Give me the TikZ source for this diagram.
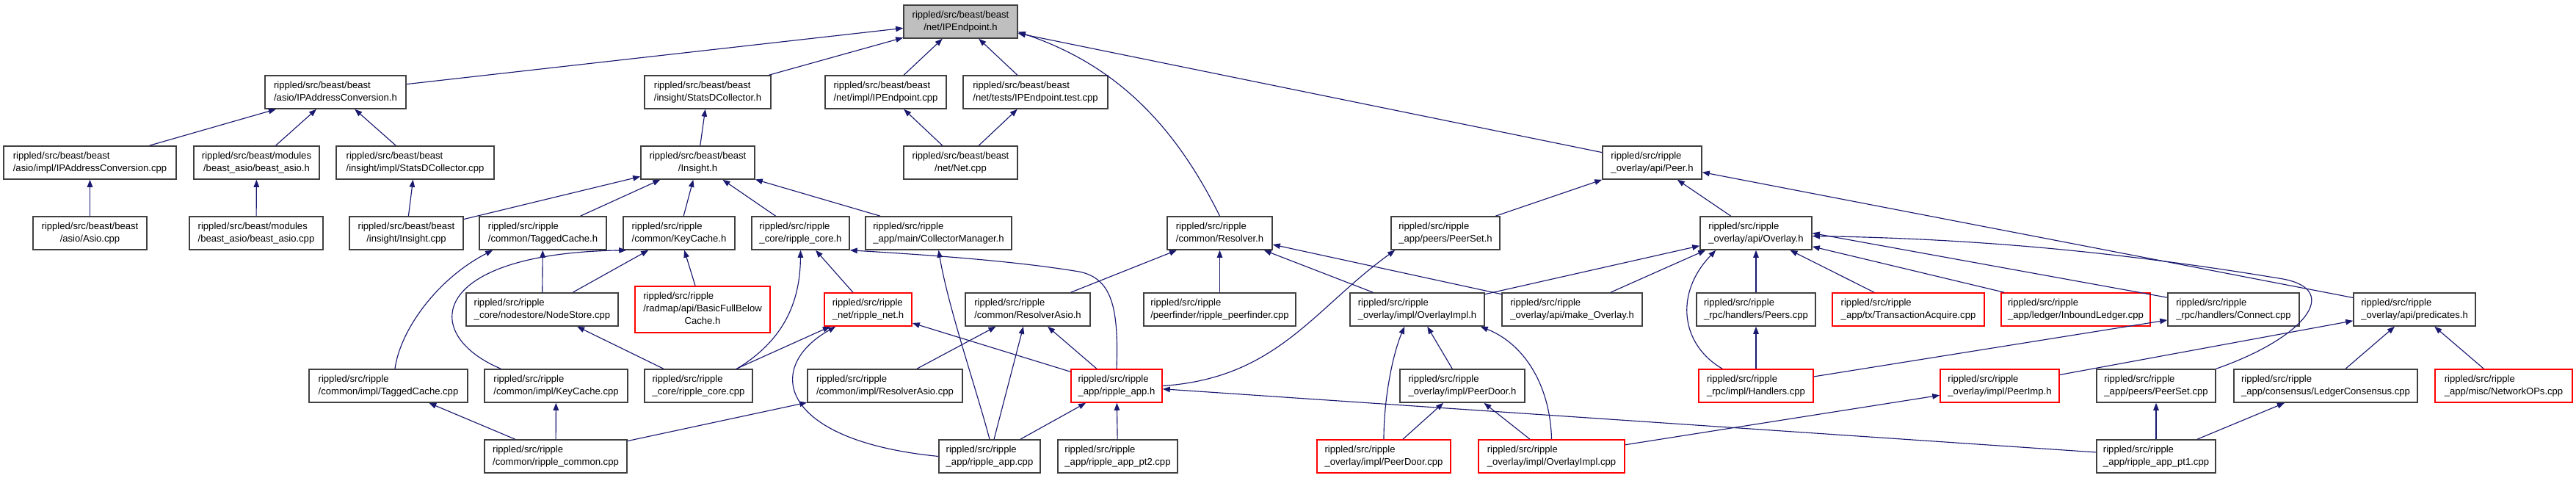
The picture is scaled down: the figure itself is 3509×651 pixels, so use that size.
\documentclass[tikz,border=0pt]{standalone}
\usepackage{fontspec}
\setmainfont{Liberation Sans}
\usepackage{tikz}
\usetikzlibrary{arrows.meta, calc}
\definecolor{edgeblue}{RGB}{25,25,112}
\definecolor{boxgray}{RGB}{64,64,64}
\definecolor{boxred}{RGB}{255,0,0}
\definecolor{rootfill}{RGB}{191,191,191}
\newcommand{\flab}[2]{\begin{tabular}{@{}l@{}}#1\\\multicolumn{1}{@{}c@{}}{#2}\end{tabular}}
\newcommand{\flabthree}[3]{\begin{tabular}{@{}l@{}}#1\\#2\\\multicolumn{1}{@{}c@{}}{#3}\end{tabular}}
\tikzset{
  file/.style={rectangle, draw=boxgray, fill=white, line width=0.9pt,
    inner sep=0pt, minimum height=0.9cm, font=\fontsize{7.45pt}{9.67pt}\selectfont},
  redfile/.style={file, draw=boxred},
  rootfile/.style={file, fill=rootfill},
  boxw/.style={minimum width=#1*0.02cm},
  dep/.style={-{Triangle[length=0.2cm, width=0.15cm]}, color=edgeblue, line width=0.65pt}
}

\begin{document}
\begin{tikzpicture}[x=0.02cm, y=-0.02cm]
  \useasboundingbox (0,0) rectangle (3509,651);

  \node[rootfile, boxw=155] (root) at (1308.5,29.5) {\flab{rippled/src/beast/beast}{/net/IPEndpoint.h}};

  \node[file, boxw=192] (ipconvh) at (457,125.5) {\flab{rippled/src/beast/beast}{/asio/IPAddressConversion.h}};
  \node[file, boxw=172] (statsh) at (964,125.5) {\flab{rippled/src/beast/beast}{/insight/StatsDCollector.h}};
  \node[file, boxw=165] (ipcpp) at (1206.5,125.5) {\flab{rippled/src/beast/beast}{/net/impl/IPEndpoint.cpp}};
  \node[file, boxw=197] (iptest) at (1410.5,125.5) {\flab{rippled/src/beast/beast}{/net/tests/IPEndpoint.test.cpp}};

  \node[file, boxw=235] (ipconvcpp) at (122.5,221.5) {\flab{rippled/src/beast/beast}{/asio/impl/IPAddressConversion.cpp}};
  \node[file, boxw=171] (asioh) at (349.5,221.5) {\flab{rippled/src/beast/modules}{/beast\_asio/beast\_asio.h}};
  \node[file, boxw=215] (statscpp) at (565.5,221.5) {\flab{rippled/src/beast/beast}{/insight/impl/StatsDCollector.cpp}};
  \node[file, boxw=155] (insighth) at (950.5,221.5) {\flab{rippled/src/beast/beast}{/Insight.h}};
  \node[file, boxw=155] (netcpp) at (1308.5,221.5) {\flab{rippled/src/beast/beast}{/net/Net.cpp}};
  \node[file, boxw=135] (peerh) at (2250.5,221.5) {\flab{rippled/src/ripple}{\_overlay/api/Peer.h}};

  \node[file, boxw=155] (asiocpp) at (122.5,317.5) {\flab{rippled/src/beast/beast}{/asio/Asio.cpp}};
  \node[file, boxw=182] (asiomodcpp) at (349,317.5) {\flab{rippled/src/beast/modules}{/beast\_asio/beast\_asio.cpp}};
  \node[file, boxw=155] (insightcpp) at (553.5,317.5) {\flab{rippled/src/beast/beast}{/insight/Insight.cpp}};
  \node[file, boxw=173] (taggedh) at (739.5,317.5) {\flab{rippled/src/ripple}{/common/TaggedCache.h}};
  \node[file, boxw=152] (keycacheh) at (925,317.5) {\flab{rippled/src/ripple}{/common/KeyCache.h}};
  \node[file, boxw=133] (coreh) at (1090.5,317.5) {\flab{rippled/src/ripple}{\_core/ripple\_core.h}};
  \node[file, boxw=199] (collectorh) at (1278.5,317.5) {\flab{rippled/src/ripple}{\_app/main/CollectorManager.h}};
  \node[file, boxw=143] (resolverh) at (1661.5,317.5) {\flab{rippled/src/ripple}{/common/Resolver.h}};
  \node[file, boxw=148] (peerseth) at (1969,317.5) {\flab{rippled/src/ripple}{\_app/peers/PeerSet.h}};
  \node[file, boxw=152] (overlayh) at (2392,317.5) {\flab{rippled/src/ripple}{\_overlay/api/Overlay.h}};

  \node[file, boxw=207] (nodestore) at (738.5,421.5) {\flab{rippled/src/ripple}{\_core/nodestore/NodeStore.cpp}};
  \node[redfile, boxw=184, minimum height=1.26cm] (fullbelow) at (957,421.5) {\flabthree{rippled/src/ripple}{/radmap/api/BasicFullBelow}{Cache.h}};
  \node[redfile, boxw=119] (neth) at (1182.5,421.5) {\flab{rippled/src/ripple}{\_net/ripple\_net.h}};
  \node[file, boxw=170] (resolverasioh) at (1400,421.5) {\flab{rippled/src/ripple}{/common/ResolverAsio.h}};
  \node[file, boxw=207] (peerfinder) at (1661.5,421.5) {\flab{rippled/src/ripple}{/peerfinder/ripple\_peerfinder.cpp}};
  \node[file, boxw=183] (overlayimplh) at (1930.5,421.5) {\flab{rippled/src/ripple}{\_overlay/impl/OverlayImpl.h}};
  \node[file, boxw=191] (makeoverlay) at (2141.5,421.5) {\flab{rippled/src/ripple}{\_overlay/api/make\_Overlay.h}};
  \node[file, boxw=162] (peerscpp) at (2392,421.5) {\flab{rippled/src/ripple}{\_rpc/handlers/Peers.cpp}};
  \node[redfile, boxw=207] (txacquire) at (2599.5,421.5) {\flab{rippled/src/ripple}{\_app/tx/TransactionAcquire.cpp}};
  \node[redfile, boxw=203] (inbound) at (2827.5,421.5) {\flab{rippled/src/ripple}{\_app/ledger/InboundLedger.cpp}};
  \node[file, boxw=179] (connect) at (3042.5,421.5) {\flab{rippled/src/ripple}{\_rpc/handlers/Connect.cpp}};
  \node[file, boxw=166] (predicates) at (3289,421.5) {\flab{rippled/src/ripple}{\_overlay/api/predicates.h}};

  \node[file, boxw=216] (taggedcpp) at (529,525.5) {\flab{rippled/src/ripple}{/common/impl/TaggedCache.cpp}};
  \node[file, boxw=195] (keycachecpp) at (757.5,525.5) {\flab{rippled/src/ripple}{/common/impl/KeyCache.cpp}};
  \node[file, boxw=147] (corecpp) at (951.5,525.5) {\flab{rippled/src/ripple}{\_core/ripple\_core.cpp}};
  \node[file, boxw=211] (resolverasiocpp) at (1205.5,525.5) {\flab{rippled/src/ripple}{/common/impl/ResolverAsio.cpp}};
  \node[redfile, boxw=124] (apph) at (1521,525.5) {\flab{rippled/src/ripple}{\_app/ripple\_app.h}};
  \node[file, boxw=170] (peerdoorh) at (1992,525.5) {\flab{rippled/src/ripple}{\_overlay/impl/PeerDoor.h}};
  \node[redfile, boxw=156] (handlers) at (2392,525.5) {\flab{rippled/src/ripple}{\_rpc/impl/Handlers.cpp}};
  \node[redfile, boxw=162] (peerimph) at (2724,525.5) {\flab{rippled/src/ripple}{\_overlay/impl/PeerImp.h}};
  \node[file, boxw=162] (peersetcpp) at (2937,525.5) {\flab{rippled/src/ripple}{\_app/peers/PeerSet.cpp}};
  \node[file, boxw=250] (consensus) at (3168,525.5) {\flab{rippled/src/ripple}{\_app/consensus/LedgerConsensus.cpp}};
  \node[redfile, boxw=187] (netops) at (3410.5,525.5) {\flab{rippled/src/ripple}{\_app/misc/NetworkOPs.cpp}};

  \node[file, boxw=194] (commoncpp) at (757,621.5) {\flab{rippled/src/ripple}{/common/ripple\_common.cpp}};
  \node[file, boxw=138] (appcpp) at (1348,621.5) {\flab{rippled/src/ripple}{\_app/ripple\_app.cpp}};
  \node[file, boxw=163] (apppt2) at (1522.5,621.5) {\flab{rippled/src/ripple}{\_app/ripple\_app\_pt2.cpp}};
  \node[redfile, boxw=182] (peerdoorcpp) at (1885,621.5) {\flab{rippled/src/ripple}{\_overlay/impl/PeerDoor.cpp}};
  \node[redfile, boxw=199] (overlayimplcpp) at (2113.5,621.5) {\flab{rippled/src/ripple}{\_overlay/impl/OverlayImpl.cpp}};
  \node[file, boxw=162] (apppt1) at (2937,621.5) {\flab{rippled/src/ripple}{\_app/ripple\_app\_pt1.cpp}};

  \draw[dep] (ipconvh) -- (root);
  \draw[dep] (statsh) -- (root);
  \draw[dep] (ipcpp) -- (root);
  \draw[dep] (iptest) -- (root);
  \draw[dep] (peerh) -- (root);
  \draw[dep] (resolverh.north) .. controls (1600,170) and (1520,88) .. ($(root.east)+(0,14)$);

  \draw[dep] (ipconvcpp) -- (ipconvh);
  \draw[dep] (asioh) -- (ipconvh);
  \draw[dep] (statscpp) -- (ipconvh);
  \draw[dep] (insighth) -- (statsh);
  \draw[dep] (netcpp) -- (ipcpp);
  \draw[dep] (netcpp) -- (iptest);
  \draw[dep] (peerseth) -- (peerh);
  \draw[dep] (overlayh) -- (peerh);
  \draw[dep] (predicates) -- (peerh);

  \draw[dep] (asiocpp) -- (ipconvcpp);
  \draw[dep] (asiomodcpp) -- (asioh);
  \draw[dep] (insightcpp) -- (statscpp);
  \draw[dep] (insightcpp) -- (insighth);
  \draw[dep] (taggedh) -- (insighth);
  \draw[dep] (keycacheh) -- (insighth);
  \draw[dep] (coreh) -- (insighth);
  \draw[dep] (collectorh) -- (insighth);

  \draw[dep] (nodestore) -- (taggedh);
  \draw[dep] ($(taggedcpp.north)+(9,0)$) .. controls (545,450) and (595,380) .. ($(taggedh.south west)+(19,0)$);
  \draw[dep] (nodestore) -- (keycacheh);
  \draw[dep] (fullbelow) -- (keycacheh);
  \draw[dep] ($(keycachecpp.north west)+(23,0)$) .. controls (570,455) and (585,345) .. ($(keycacheh.south west)+(5,0)$);
  \draw[dep] (neth) -- (coreh);
  \draw[dep] ($(corecpp.north east)+(-22,0)$) .. controls (1065,465) and (1090,415) .. (coreh.south);
  \draw[dep] (apph.north) .. controls (1524,420) and (1515,379) .. (1470,370)
    .. controls (1380,355) and (1260,347) .. (coreh.south east);
  \draw[dep] (appcpp.north) .. controls (1330,530) and (1292,420) .. (collectorh.south);

  \draw[dep] (resolverasioh) -- (resolverh);
  \draw[dep] (peerfinder) -- (resolverh);
  \draw[dep] (overlayimplh) -- (resolverh);
  \draw[dep] (makeoverlay) -- (resolverh);
  \draw[dep] (apph.east) .. controls (1740,515) and (1790,420) .. ($(peerseth.south west)+(6,0)$);

  \draw[dep] (overlayimplh) -- (overlayh);
  \draw[dep] (makeoverlay) -- ($(overlayh.south west)+(8,0)$);
  \draw[dep] ($(handlers.north west)+(33,0)$) .. controls (2290,470) and (2280,400) .. ($(overlayh.south west)+(22,0)$);
  \draw[dep] (peerscpp) -- (overlayh);
  \draw[dep] (txacquire) -- (overlayh);
  \draw[dep] (inbound) -- (overlayh);
  \draw[dep] (connect) -- (overlayh.east);
  \draw[dep] (peersetcpp.north east) .. controls (3140,460) and (3190,395) .. (3110,380)
    .. controls (2900,345) and (2700,325) .. ($(overlayh.east)+(0,4)$);

  \draw[dep] (corecpp) -- (nodestore);
  \draw[dep] (corecpp) -- (neth);
  \draw[dep] (apph) -- (neth);
  \draw[dep] (appcpp.west) .. controls (1060,600) and (1040,500) .. ($(neth.south west)+(16,0)$);
  \draw[dep] (resolverasiocpp) -- (resolverasioh);
  \draw[dep] (apph) -- (resolverasioh);
  \draw[dep] (appcpp) -- (resolverasioh);

  \draw[dep] (peerdoorh) -- (overlayimplh);
  \draw[dep] (peerdoorcpp.north) .. controls (1885,540) and (1898,480) .. ($(overlayimplh.south west)+(75,0)$);
  \draw[dep] (overlayimplcpp.north) .. controls (2112,530) and (2080,470) .. ($(overlayimplh.south east)+(-6,0)$);
  \draw[dep] (handlers) -- (peerscpp);
  \draw[dep] (handlers) -- (connect);
  \draw[dep] (peerimph) -- (predicates);
  \draw[dep] (consensus) -- (predicates);
  \draw[dep] (netops) -- (predicates);

  \draw[dep] (commoncpp) -- (taggedcpp);
  \draw[dep] (commoncpp) -- (keycachecpp);
  \draw[dep] (commoncpp) -- (resolverasiocpp);
  \draw[dep] (appcpp) -- (apph);
  \draw[dep] (apppt2) -- (apph);
  \draw[dep] (apppt1) -- (apph);
  \draw[dep] (peerdoorcpp) -- (peerdoorh);
  \draw[dep] (overlayimplcpp) -- (peerdoorh);
  \draw[dep] (overlayimplcpp) -- (peerimph);
  \draw[dep] (apppt1) -- (peersetcpp);
  \draw[dep] (apppt1) -- (consensus);
\end{tikzpicture}
\end{document}
